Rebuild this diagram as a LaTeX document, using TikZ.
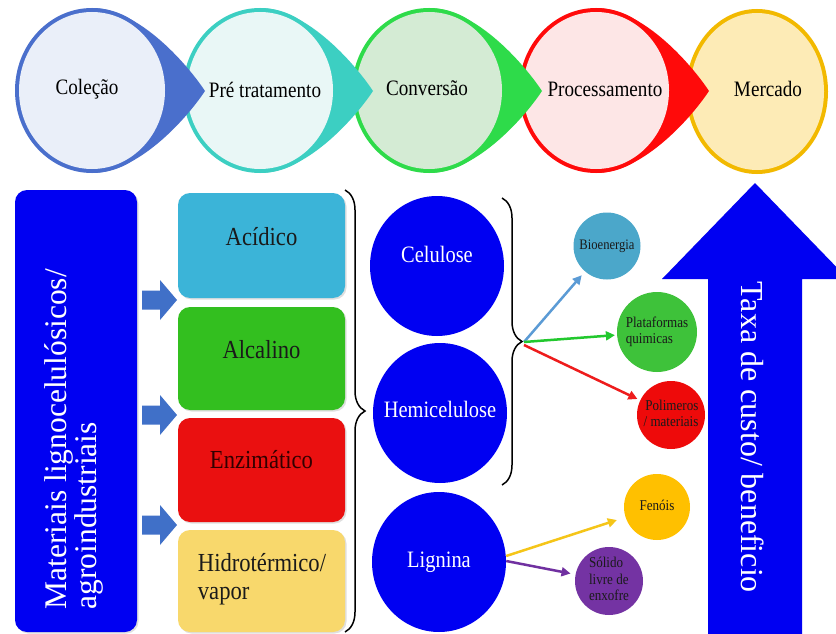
\documentclass[tikz,border=0pt]{standalone}
\usepackage{fontspec}
\usepackage{graphicx}
\newfontfamily\dummyfont{Liberation Serif}[FakeStretch=0.87]
\newfontfamily\myserif{Liberation Serif}
\newcommand\fs[2]{\myserif\fontsize{#1}{#2}\selectfont}
\usetikzlibrary{shapes.geometric,arrows.meta,decorations.pathreplacing,shadows}
\newcommand\sqs[2][c]{\scalebox{0.87}[1]{\begin{tabular}{@{}#1@{}}#2\end{tabular}}}
\definecolor{cAb}{HTML}{4A6FCC}\definecolor{cAf}{HTML}{EAEFF9}
\definecolor{cBb}{HTML}{3CCFC2}\definecolor{cBf}{HTML}{E9F7F6}
\definecolor{cCb}{HTML}{2EDB4A}\definecolor{cCf}{HTML}{D4EBD4}
\definecolor{cDb}{HTML}{FF0A0A}\definecolor{cDf}{HTML}{FDE6E6}
\definecolor{cEb}{HTML}{F2B900}\definecolor{cEf}{HTML}{FDEBB6}
\definecolor{cblue}{HTML}{0000F2}
\definecolor{arrowblue}{HTML}{4070C8}
\definecolor{acid}{HTML}{3BB4D8}
\definecolor{alca}{HTML}{33BF1F}
\definecolor{enzi}{HTML}{EA1010}
\definecolor{hidro}{HTML}{F8D86C}
\definecolor{txtdark}{HTML}{1A1A1A}
\definecolor{bioc}{HTML}{4BA7CA}
\definecolor{platc}{HTML}{3EC23A}
\definecolor{polic}{HTML}{EE0A0A}
\definecolor{fenc}{HTML}{FFC000}
\definecolor{solc}{HTML}{7433A3}
\definecolor{lbl}{HTML}{5B9BD5}
\definecolor{lgr}{HTML}{22C82E}
\definecolor{lrd}{HTML}{EE1C1C}
\definecolor{lye}{HTML}{F5C518}
\definecolor{lpu}{HTML}{7030A0}
\begin{document}
\begin{tikzpicture}[x=1pt,y=-1pt,
  font=\fs{22}{24},
  box/.style={rounded corners=12pt, inner sep=0pt, drop shadow={opacity=0.25, shadow xshift=1.5pt, shadow yshift=-1.5pt}},
  bigc/.style={ellipse, fill=cblue, inner sep=0pt, minimum width=134pt, minimum height=140pt},
  smallc/.style={circle, inner sep=0pt, font=\fs{15}{16.5}, text=txtdark},
  btxt/.style={font=\fs{26}{28}, text=txtdark},
  ctxt/.style={font=\fs{23.5}{26}, text=white},
  link/.style={line width=2.5pt, -{Triangle[length=9pt,width=9pt]}},
  bracestyle/.style={decorate, decoration={brace, amplitude=20pt}, line width=1.5pt}]
\useasboundingbox (0,0) rectangle (836,634);
\clip (0,0) rectangle (836,634);
\fill[white] (0,0) rectangle (836,634);
% top row
\fill[cEb] (757,91.5) ellipse[x radius=71, y radius=82.5];
\fill[cEf] (757,91.5) ellipse[x radius=67, y radius=78.5];
\foreach \cx/\bc/\fc in {596/cDb/cDf, 429/cCb/cCf, 260/cBb/cBf, 92/cAb/cAf} {
  \fill[\bc] (\cx,90.5) ellipse[x radius=77, y radius=82.5];
  \fill[\bc] (\cx+113,91) .. controls (\cx+93,61) and (\cx+45,8) .. (\cx,8)
     -- (\cx,173) .. controls (\cx+45,173) and (\cx+93,121) .. (\cx+113,91) -- cycle;
  \fill[\fc] (\cx,90.5) ellipse[x radius=73, y radius=78.5];
}
\node (col) at (87,90) {\sqs{Coleção}};
\node (pre) at (265,93) {\sqs{Pré tratamento}};
\node (conv) at (427,91) {\sqs{Conversão}};
\node (proc) at (605,92) {\sqs{Processamento}};
\node (merc) at (768,92) {\sqs{Mercado}};
% left box
\node[box, fill=cblue, minimum width=122pt, minimum height=442pt] (mat) at (76,411) {};
\node[rotate=90, anchor=west, align=left, text=white, font=\fs{31.5}{28}] (matt) at (74,613) {Materiais lignocelulósicos/\\agroindustriais};
% block arrows
\foreach \yy in {300,415,525} {
  \fill[arrowblue] (142,\yy-9.5) -- (160,\yy-9.5) -- (160,\yy-20) -- (177,\yy) -- (160,\yy+20) -- (160,\yy+9.5) -- (142,\yy+9.5) -- cycle;
}
% pretreatment boxes
\node[box, fill=acid, minimum width=167pt, minimum height=105pt] (acid) at (261.5,245.5) {};
\node[box, fill=alca, minimum width=167pt, minimum height=103pt] (alca) at (261.5,358.5) {};
\node[box, fill=enzi, minimum width=167pt, minimum height=104pt] (enzi) at (261.5,470) {};
\node[box, fill=hidro, minimum width=167pt, minimum height=102pt] (hidro) at (261.5,581) {};
\node[btxt] at (261.5,240) {\sqs{Acídico}};
\node[btxt] at (261.5,353) {\sqs{Alcalino}};
\node[btxt, text=black!80!red] at (261.5,463) {\sqs{Enzimático}};
\node[btxt] at (262,580) {\sqs[l]{Hidrotérmico/\\vapor}};
% brace 1
\draw[bracestyle] (345,190) -- (345,632);
% components
\node[bigc] (cel) at (437,266) {};
\node[bigc] (hem) at (440,413) {};
\node[bigc] (lig) at (439,562) {};
\node[ctxt] at (437,257) {\sqs{Celulose}};
\node[ctxt] at (440,412) {\sqs{Hemicelulose}};
\node[ctxt] at (439,562) {\sqs{Lignina}};
% brace 2
\draw[bracestyle] (502,198) -- (502,485);
\coordinate (bt) at (524,342);
% products
\node[smallc, fill=bioc, minimum size=67pt, font=\fs{14.5}{16}] (bio) at (607,246) {\sqs{Bioenergia}};
\node[smallc, fill=platc, minimum size=80pt] (plat) at (657,332) {\sqs[l]{Plataformas\\quimicas}};
\node[smallc, fill=polic, minimum size=68pt] (poli) at (671,415) {\sqs[r]{Polimeros\\/ materiais}};
\node[smallc, fill=fenc, minimum size=66pt] (fen) at (657,507) {\sqs{Fenóis}};
\node[smallc, fill=solc, minimum size=68pt] (sol) at (609,581) {\sqs[l]{Sólido\\livre de\\enxofre}};
% links
\draw[link, lbl, shorten >=5pt] (bt) -- (bio);
\draw[link, lgr, shorten >=2pt] (bt) -- (plat);
\draw[link, lrd, shorten >=3pt] ([yshift=-3pt]bt) -- (poli);
\draw[link, lye, shorten >=9pt] ([yshift=6pt]lig.east) -- (fen);
\draw[link, lpu, shorten >=5pt] ([yshift=1pt]lig.east) -- (sol);
% big arrow
\fill[cblue] (708,640) -- (708,279) -- (662,279) -- (755,183) -- (848,279) -- (802,279) -- (802,640) -- cycle;
\node[rotate=-90, anchor=west, text=white, font=\fs{32}{34}] (taxa) at (753,278) {Taxa de custo/ beneficio};
\end{tikzpicture}
\end{document}
